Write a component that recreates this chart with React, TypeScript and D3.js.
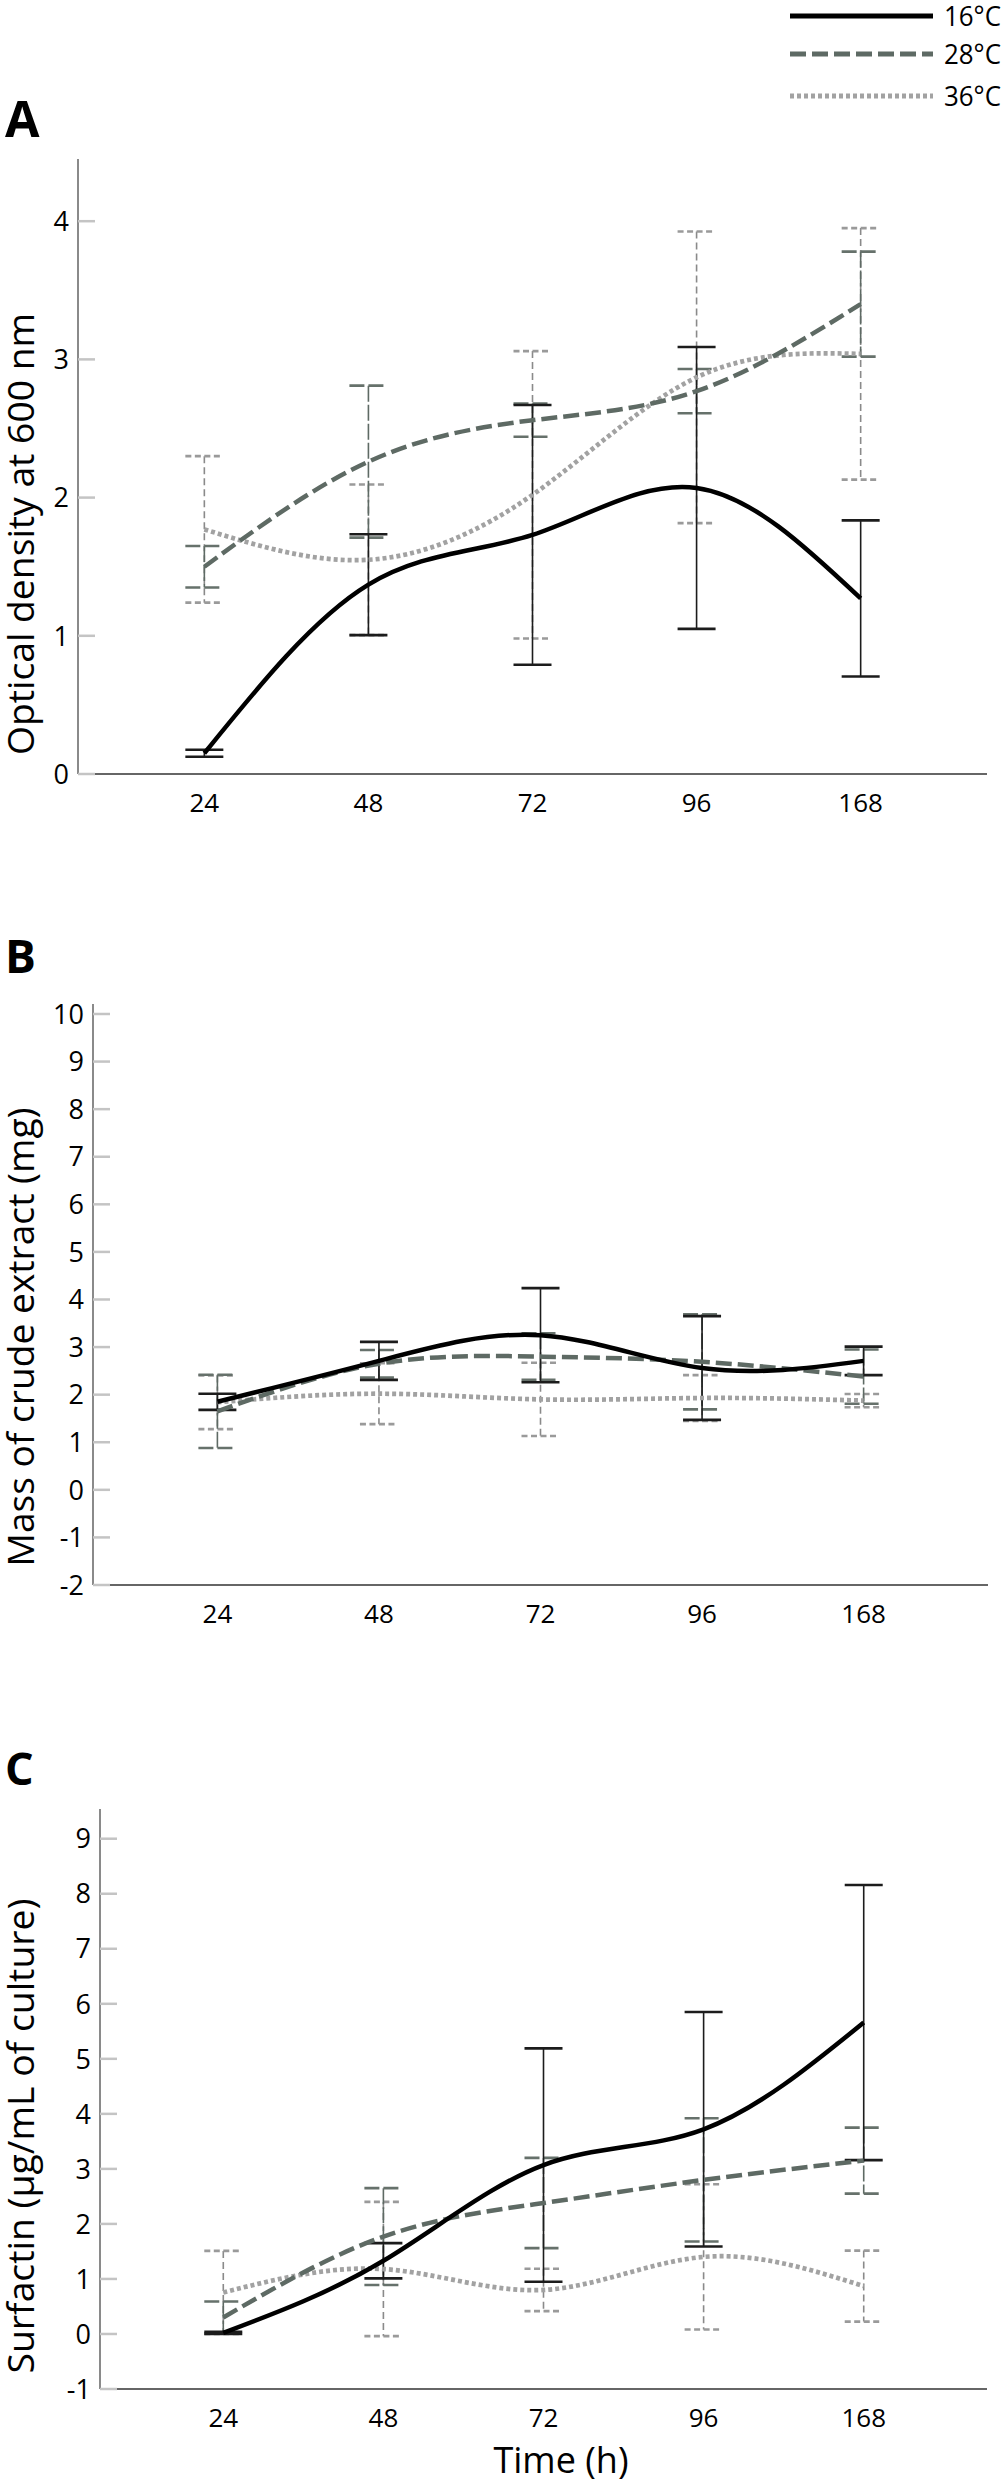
import React from 'react';
import * as d3 from 'd3';

// ---------- data ----------
const categories = ['24', '48', '72', '96', '168'];
const seriesLabels = ['16°C', '28°C', '36°C'];

// Panel A: optical density at 600 nm (mean, half error bar)
const odMean16 = [0.15, 1.37, 1.73, 2.07, 1.27];
const odErr16 = [0.025, 0.365, 0.94, 1.02, 0.565];
const odMean28 = [1.5, 2.26, 2.56, 2.77, 3.4];
const odErr28 = [0.15, 0.55, 0.12, 0.16, 0.38];
const odMean36 = [1.77, 1.55, 2.02, 2.87, 3.04];
const odErr36 = [0.53, 0.545, 1.04, 1.055, 0.91];

// Panel B: mass of crude extract (mg)
const massMean16 = [1.85, 2.71, 3.25, 2.56, 2.71];
const massErr16 = [0.17, 0.4, 0.99, 1.09, 0.3];
const massMean28 = [1.65, 2.65, 2.8, 2.69, 2.38];
const massErr28 = [0.77, 0.29, 0.49, 1.0, 0.57];
const massMean36 = [1.84, 2.02, 1.9, 1.93, 1.875];
const massErr36 = [0.565, 0.64, 0.77, 0.48, 0.14];

// Panel C: surfactin (µg/mL of culture)
const surfMean16 = [0.02, 1.33, 3.07, 3.72, 5.66];
const surfErr16 = [0.02, 0.32, 2.12, 2.13, 2.5];
const surfMean28 = [0.3, 1.77, 2.38, 2.8, 3.15];
const surfErr28 = [0.29, 0.88, 0.82, 1.12, 0.6];
const surfMean36 = [0.755, 1.18, 0.8, 1.4, 0.87];
const surfErr36 = [0.755, 1.22, 0.385, 1.32, 0.645];

const odTicks = [0, 1, 2, 3, 4];
const massTicks = [-2, -1, 0, 1, 2, 3, 4, 5, 6, 7, 8, 9, 10];
const surfTicks = [-1, 0, 1, 2, 3, 4, 5, 6, 7, 8, 9];

// ---------- layout / styles ----------
const W = 1005;
const H = 2481;
const FONT = "'Open Sans', 'DejaVu Sans', sans-serif";

const seriesStyles = [
  { color: '#000000', width: 4.5, dash: undefined, errColor: '#1c1c1c', errDash: undefined, capDash: undefined, capColor: '#1c1c1c' },
  { color: '#5e6a64', width: 4.5, dash: '16,6', errColor: '#5e6a64', errDash: '16,3', capDash: '15,4', capColor: '#66716b' },
  { color: '#a2a2a2', width: 4.7, dash: '4,3', errColor: '#8a8a8a', errDash: '7,4', capDash: '6,3.5', capColor: '#9a9a9a' },
];

const panels = [
  {
    letter: 'A', letterY: 137, letterSize: 50,
    xRange: [78, 987], yDomain: [0, 4.45], yRange: [774, 159], ticks: odTicks,
    title: 'Optical density at 600 nm', titleY: 534, titleLen: 442,
    means: [odMean16, odMean28, odMean36], errs: [odErr16, odErr28, odErr36],
  },
  {
    letter: 'B', letterY: 973, letterSize: 46,
    xRange: [93, 988], yDomain: [-2, 10.21], yRange: [1585, 1004], ticks: massTicks,
    title: 'Mass of crude extract (mg)', titleY: 1337, titleLen: 459,
    means: [massMean16, massMean28, massMean36], errs: [massErr16, massErr28, massErr36],
  },
  {
    letter: 'C', letterY: 1785, letterSize: 45,
    xRange: [100, 987], yDomain: [-1, 9.54], yRange: [2389, 1809], ticks: surfTicks,
    title: 'Surfactin (µg/mL of culture)', titleY: 2136, titleLen: 475,
    means: [surfMean16, surfMean28, surfMean36], errs: [surfErr16, surfErr28, surfErr36],
  },
];

function Panel({ p, showXTitle }: { p: any; showXTitle: boolean }) {
  const x = d3.scalePoint<string>().domain(categories).range(p.xRange).padding(0.77);
  const y = d3.scaleLinear().domain(p.yDomain).range(p.yRange);
  const line = d3
    .line<number>()
    .x((_, i) => x(categories[i]) as number)
    .y((d) => y(d))
    .curve(d3.curveNatural);
  const x0 = p.xRange[0];
  const x1 = p.xRange[1];
  const yb = p.yRange[0];
  const yt = p.yRange[1];
  const capHalf = 19;

  return (
    <g>
      <text x={5} y={p.letterY} fontFamily={FONT} fontWeight={700} fontSize={p.letterSize} fill="#000">
        {p.letter}
      </text>
      {/* axes */}
      <line x1={x0} x2={x0} y1={yt} y2={yb} stroke="#8a8a8a" strokeWidth={2} />
      <line x1={x0} x2={x1} y1={yb} y2={yb} stroke="#666" strokeWidth={2.2} />
      {p.ticks.map((t: number) => (
        <g key={t}>
          <line x1={x0} x2={x0 + 17} y1={y(t)} y2={y(t)} stroke="#c4c4c4" strokeWidth={2.5} />
          <text x={x0 - 9} y={y(t)} dy="0.36em" textAnchor="end" fontFamily={FONT} fontSize={27} fill="#000">
            {String(t)}
          </text>
        </g>
      ))}
      {categories.map((c) => (
        <text key={c} x={x(c)} y={yb + 38} textAnchor="middle" fontFamily={FONT} fontSize={26} fill="#000">
          {c}
        </text>
      ))}
      <text
        transform={`translate(34,${p.titleY}) rotate(-90)`}
        textAnchor="middle"
        fontFamily={FONT}
        fontSize={37}
        textLength={p.titleLen}
        lengthAdjust="spacingAndGlyphs"
        fill="#000"
      >
        {p.title}
      </text>
      {showXTitle && (
        <text x={561} y={2473} textAnchor="middle" fontFamily={FONT} fontSize={36} fill="#000">
          Time (h)
        </text>
      )}
      {/* error bars */}
      {[2, 1, 0].map((si) => {
        const s = seriesStyles[si];
        return (
          <g key={'e' + si}>
            {p.means[si].map((m: number, i: number) => {
              const cx = x(categories[i]) as number;
              const e = p.errs[si][i];
              const ylo = y(m - e);
              const yhi = y(m + e);
              return (
                <g key={i}>
                  <line x1={cx} x2={cx} y1={yhi} y2={ylo} stroke={s.errColor} strokeWidth={1.6} strokeDasharray={s.errDash} />
                  <line x1={cx - capHalf} x2={cx + capHalf} y1={yhi} y2={yhi} stroke={s.capColor} strokeWidth={2.6} strokeDasharray={s.capDash} />
                  <line x1={cx - capHalf} x2={cx + capHalf} y1={ylo} y2={ylo} stroke={s.capColor} strokeWidth={2.6} strokeDasharray={s.capDash} />
                </g>
              );
            })}
          </g>
        );
      })}
      {/* lines */}
      {[2, 1, 0].map((si) => {
        const s = seriesStyles[si];
        return (
          <path
            key={'l' + si}
            d={line(p.means[si]) || ''}
            fill="none"
            stroke={s.color}
            strokeWidth={s.width}
            strokeDasharray={s.dash}
          />
        );
      })}
    </g>
  );
}

export default function App() {
  const legendYs = [16, 54, 96];
  return (
    <svg
      width={W}
      height={H}
      viewBox={`0 0 ${W} ${H}`}
      style={{ position: 'absolute', left: 0, top: 0, display: 'block', background: '#fff' }}
    >
      <rect x={0} y={0} width={W} height={H} fill="#fff" />
      {seriesLabels.map((lab, i) => {
        const s = seriesStyles[i];
        return (
          <g key={lab}>
            <line x1={790} x2={933} y1={legendYs[i]} y2={legendYs[i]} stroke={s.color} strokeWidth={s.width + 0.5} strokeDasharray={s.dash} />
            <text
              x={944}
              y={legendYs[i] + 10}
              fontFamily={FONT}
              fontSize={27}
              textLength={57}
              lengthAdjust="spacingAndGlyphs"
              fill="#000"
            >
              {lab}
            </text>
          </g>
        );
      })}
      {panels.map((p, i) => (
        <Panel key={p.letter} p={p} showXTitle={i === 2} />
      ))}
    </svg>
  );
}
